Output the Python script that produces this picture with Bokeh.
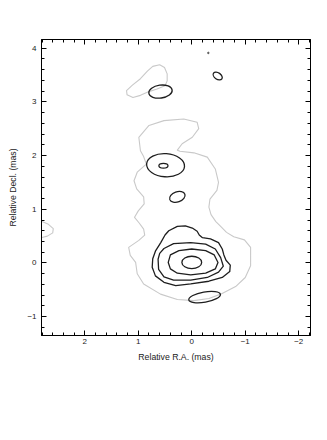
from bokeh.plotting import figure
from bokeh.models import (Range1d, LinearAxis, SingleIntervalTicker, ColumnDataSource,
                          CustomLabelingPolicy)
from bokeh.embed import file_html
from bokeh.resources import INLINE

# ---------------- data (RA, Dec in mas) ----------------
# lowest (grey) contour: main jet outline
gray_main_ra = [0.22, -0.04, -0.29, -0.44, -0.50, -0.47, -0.34, -0.32, -0.36, -0.45, -0.54,
                -0.65, -0.785, -0.985, -1.10, -1.10, -1.00, -0.82, -0.54, -0.32, -0.04, 0.27,
                0.585, 0.90, 1.02, 1.05, 1.15, 1.18, 0.99, 0.88, 0.90, 0.98, 1.07, 1.00, 0.89,
                0.90, 1.03, 1.08, 1.02, 0.85, 0.90, 0.96, 0.99, 0.80, 0.52, 0.15, -0.10, -0.13,
                -0.01, 0.18, 0.27]
gray_main_dec = [2.08, 2.05, 1.97, 1.75, 1.50, 1.35, 1.19, 1.04, 0.90, 0.77, 0.68,
                 0.57, 0.49, 0.43, 0.29, -0.05, -0.27, -0.44, -0.58, -0.66, -0.70, -0.68,
                 -0.58, -0.39, -0.20, 0.01, 0.14, 0.29, 0.42, 0.52, 0.63, 0.74, 0.85, 0.97, 1.10,
                 1.23, 1.38, 1.53, 1.69, 1.84, 1.98, 2.09, 2.34, 2.56, 2.65, 2.68, 2.62, 2.50,
                 2.34, 2.22, 2.10]
# grey contour: north blob
gray_top_ra = [1.21, 1.22, 1.11, 0.96, 0.83, 0.73, 0.60, 0.51, 0.46, 0.46, 0.50, 0.65, 0.80, 0.96, 1.10]
gray_top_dec = [3.13, 3.21, 3.31, 3.43, 3.57, 3.66, 3.69, 3.64, 3.52, 3.39, 3.30, 3.24, 3.19, 3.12, 3.08]
# grey contour: east edge arc
gray_edge_ra = [2.95, 2.80, 2.68, 2.59, 2.60, 2.70, 2.82, 2.95]
gray_edge_dec = [0.80, 0.77, 0.72, 0.64, 0.56, 0.50, 0.47, 0.45]

# core contours (black), from outer to inner
core4_ra = [0.43, 0.27, 0.12, -0.01, -0.10, -0.14, -0.20, -0.35, -0.50, -0.57, -0.60, -0.64,
            -0.72, -0.71, -0.57, -0.32, 0.02, 0.30, 0.52, 0.68, 0.74, 0.73, 0.68, 0.58, 0.50]
core4_dec = [0.60, 0.68, 0.69, 0.65, 0.59, 0.52, 0.47, 0.45, 0.38, 0.26, 0.15, 0.05,
             -0.04, -0.16, -0.27, -0.34, -0.39, -0.42, -0.36, -0.24, -0.08, 0.08, 0.22, 0.38, 0.52]
core3_ra = [0.63, 0.60, 0.52, 0.34, 0.02, -0.26, -0.44, -0.54, -0.59, -0.50, -0.29, 0.02, 0.34, 0.52, 0.62]
core3_dec = [0.07, 0.18, 0.27, 0.36, 0.38, 0.35, 0.26, 0.10, -0.06, -0.17, -0.27, -0.32, -0.32, -0.26, -0.12]
core2_ra = [0.44, 0.40, 0.24, 0.0, -0.26, -0.42, -0.49, -0.44, -0.26, 0.02, 0.27, 0.40]
core2_dec = [0.01, 0.15, 0.23, 0.26, 0.23, 0.15, 0.01, -0.11, -0.19, -0.22, -0.19, -0.11]

# elliptical black contours: centre, full width, full height, tilt (deg)
ell_ra = [0.0, -0.24, 0.27, 0.49, 0.53, 0.585, -0.485]
ell_dec = [0.01, -0.635, 1.23, 1.82, 1.81, 3.19, 3.48]
ell_w = [0.37, 0.60, 0.30, 0.71, 0.17, 0.44, 0.19]
ell_h = [0.23, 0.19, 0.19, 0.43, 0.09, 0.24, 0.12]
ell_ang = [0, 10, 20, -4, 0, 8, -35]

dot_ra = [-0.31]
dot_dec = [3.91]

x_ticks = [2, 1, 0, -1, -2]
x_tick_labels = ["2", "1", "0", "\u22121", "\u22122"]
y_ticks = [-1, 0, 1, 2, 3, 4]
y_tick_labels = ["\u22121", "0", "1", "2", "3", "4"]

# ---------------- figure ----------------
FONT = "Liberation Sans"
TXT = "#222222"
p = figure(width=319, height=380, output_backend="svg", toolbar_location=None,
           x_range=Range1d(2.81, -2.22), y_range=Range1d(-1.35, 4.16),
           min_border_left=41, min_border_right=9, min_border_top=39, min_border_bottom=45,
           background_fill_color="white", border_fill_color="white")
p.grid.visible = False
p.outline_line_color = "black"
p.outline_line_width = 1

for ax in list(p.xaxis) + list(p.yaxis):
    ax.ticker = SingleIntervalTicker(interval=1, num_minor_ticks=5)
    ax.major_tick_in = 5
    ax.major_tick_out = 0
    ax.minor_tick_in = 3
    ax.minor_tick_out = 0
    ax.major_tick_line_color = "black"
    ax.minor_tick_line_color = "black"
    ax.axis_line_color = "black"
    ax.major_label_text_font = FONT
    ax.major_label_text_font_size = "8px"
    ax.major_label_text_color = TXT
    ax.axis_label_text_font = FONT
    ax.axis_label_text_font_size = "8.7px"
    ax.axis_label_text_font_style = "normal"
    ax.axis_label_text_color = TXT

p.xaxis.axis_label = "Relative R.A. (mas)"
p.yaxis.axis_label = "Relative Decl. (mas)"
p.xaxis.major_label_overrides = {t: l for t, l in zip(x_ticks, x_tick_labels)}
p.yaxis.major_label_overrides = {t: l for t, l in zip(y_ticks, y_tick_labels)}
p.xaxis.major_label_standoff = 3
p.xaxis.axis_label_standoff = 5
p.yaxis.major_label_standoff = 5
p.yaxis.axis_label_standoff = 6

no_labels = CustomLabelingPolicy(code="for (const i of indices) { indices.unset(i) } return indices")
for loc in ("above", "right"):
    ax = LinearAxis(ticker=SingleIntervalTicker(interval=1, num_minor_ticks=5),
                    major_label_policy=no_labels)
    ax.major_tick_in = 5
    ax.major_tick_out = 0
    ax.minor_tick_in = 3
    ax.minor_tick_out = 0
    ax.major_tick_line_color = "black"
    ax.minor_tick_line_color = "black"
    ax.axis_line_color = "black"
    ax.major_label_standoff = 0
    ax.major_label_text_font_size = "1px"
    p.add_layout(ax, loc)

GRAY = "#c9c9c9"
BLK = "#1e1e1e"

p.patches(xs=[gray_main_ra, gray_top_ra], ys=[gray_main_dec, gray_top_dec],
          fill_color=None, line_color=GRAY, line_width=1.1, line_join="round")
p.line(gray_edge_ra, gray_edge_dec, line_color=GRAY, line_width=1.1, line_join="round")

p.patches(xs=[core4_ra, core3_ra, core2_ra], ys=[core4_dec, core3_dec, core2_dec],
          fill_color=None, line_color=BLK, line_width=1.3, line_join="round")

src = ColumnDataSource(dict(x=ell_ra, y=ell_dec, w=ell_w, h=ell_h, a=ell_ang))
p.ellipse(x="x", y="y", width="w", height="h", angle="a", angle_units="deg", source=src,
          fill_color=None, line_color=BLK, line_width=1.3)
p.scatter(dot_ra, dot_dec, size=1.5, color="#555555")

open("out.html", "w").write(file_html(p, INLINE))
